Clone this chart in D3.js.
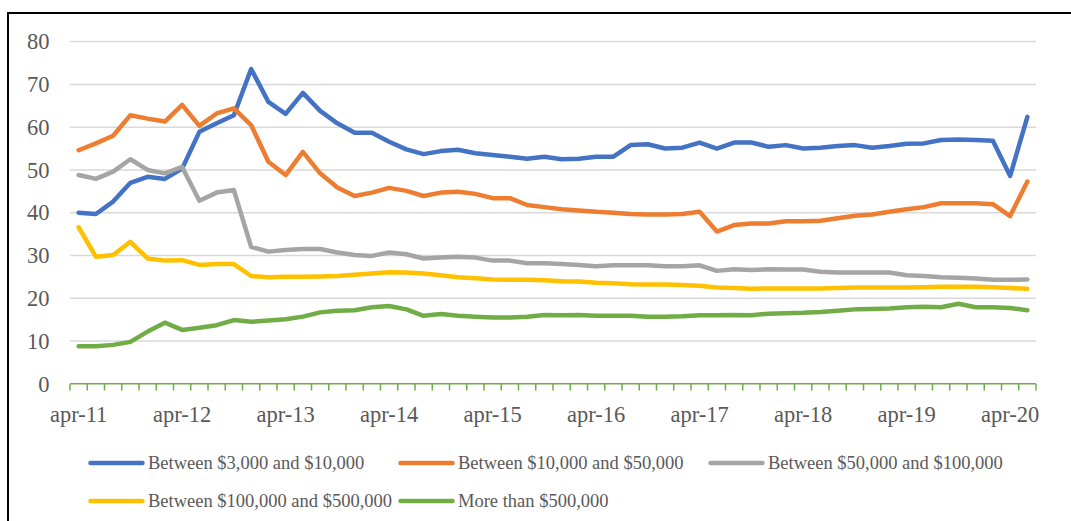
<!DOCTYPE html>
<html>
<head>
<meta charset="utf-8">
<script src="https://cdn.jsdelivr.net/npm/d3@7"></script>
<style>
  html, body { margin: 0; padding: 0; background: #fff; }
  svg { display: block; }
</style>
</head>
<body>
<svg id="chart" width="1071" height="521"></svg>
<script>
const categories = [
  "apr-11","jun-11","aug-11","oct-11","dec-11","feb-12",
  "apr-12","jun-12","aug-12","oct-12","dec-12","feb-13",
  "apr-13","jun-13","aug-13","oct-13","dec-13","feb-14",
  "apr-14","jun-14","aug-14","oct-14","dec-14","feb-15",
  "apr-15","jun-15","aug-15","oct-15","dec-15","feb-16",
  "apr-16","jun-16","aug-16","oct-16","dec-16","feb-17",
  "apr-17","jun-17","aug-17","oct-17","dec-17","feb-18",
  "apr-18","jun-18","aug-18","oct-18","dec-18","feb-19",
  "apr-19","jun-19","aug-19","oct-19","dec-19","feb-20",
  "apr-20","jun-20"
];
const tickLabels = ["apr-11","apr-12","apr-13","apr-14","apr-15","apr-16","apr-17","apr-18","apr-19","apr-20"];
const yTicks = [0,10,20,30,40,50,60,70,80];

const seriesNames = [
  "Between $3,000 and $10,000",
  "Between $10,000 and $50,000",
  "Between $50,000 and $100,000",
  "Between $100,000 and $500,000",
  "More than $500,000"
];
const seriesColors = ["#4472c4","#ed7d31","#a5a5a5","#ffc000","#70ad47"];

const s3kTo10k = [
  40.0,39.7,42.6,47.0,48.4,47.9,50.3,58.9,60.9,62.8,73.6,65.9,63.1,68.0,
  63.8,60.9,58.7,58.7,56.6,54.8,53.7,54.4,54.7,53.9,53.5,53.1,52.6,53.1,
  52.5,52.6,53.1,53.1,55.8,56.0,55.0,55.2,56.4,55.0,56.4,56.4,55.4,55.8,
  55.0,55.2,55.6,55.8,55.2,55.6,56.1,56.2,57.0,57.1,57.0,56.8,48.6,62.4
];
const s10kTo50k = [
  54.6,56.2,58.0,62.8,62.0,61.3,65.2,60.3,63.2,64.4,60.5,51.9,48.8,54.2,
  49.2,45.9,43.9,44.7,45.8,45.1,43.9,44.7,44.9,44.4,43.4,43.4,41.8,41.3,
  40.8,40.5,40.2,40.0,39.7,39.6,39.6,39.7,40.2,35.6,37.1,37.5,37.5,38.0,
  38.0,38.1,38.7,39.3,39.6,40.2,40.8,41.3,42.2,42.2,42.2,42.0,39.2,47.3
];
const s50kTo100k = [
  48.8,47.9,49.6,52.5,50.0,49.2,50.7,42.8,44.7,45.3,32.0,30.9,31.3,31.5,
  31.5,30.7,30.1,29.9,30.7,30.3,29.3,29.5,29.7,29.5,28.8,28.8,28.2,28.2,
  28.0,27.8,27.5,27.7,27.7,27.7,27.5,27.5,27.7,26.4,26.8,26.6,26.8,26.7,
  26.7,26.2,26.0,26.0,26.0,26.0,25.4,25.2,24.9,24.8,24.6,24.3,24.3,24.4
];
const s100kTo500k = [
  36.6,29.7,30.1,33.2,29.3,28.8,28.9,27.8,28.0,28.0,25.2,24.9,25.0,25.0,
  25.1,25.2,25.5,25.8,26.1,26.0,25.8,25.4,24.9,24.7,24.4,24.3,24.3,24.2,
  24.0,23.9,23.6,23.5,23.3,23.2,23.2,23.1,22.9,22.5,22.4,22.2,22.3,22.3,
  22.3,22.3,22.4,22.5,22.5,22.5,22.5,22.6,22.7,22.7,22.7,22.6,22.4,22.2
];
const sOver500k = [
  8.8,8.8,9.1,9.8,12.2,14.3,12.6,13.1,13.7,14.9,14.5,14.8,15.1,15.7,
  16.7,17.1,17.2,17.9,18.2,17.4,15.9,16.3,15.9,15.7,15.5,15.5,15.7,16.1,
  16.0,16.1,15.9,15.9,15.9,15.7,15.7,15.8,16.0,16.0,16.1,16.0,16.4,16.5,
  16.6,16.8,17.1,17.4,17.5,17.6,17.9,18.0,17.9,18.7,17.9,17.9,17.7,17.2
];
const seriesValues = [s3kTo10k, s10kTo50k, s50kTo100k, s100kTo500k, sOver500k];

const svg = d3.select("#chart");
const textColor = "#595959";
const serif = "'Liberation Serif','Times New Roman',Times,serif";

// outer frame
svg.append("rect")
  .attr("x", 8).attr("y", 13)
  .attr("width", 1080).attr("height", 530)
  .attr("fill", "none").attr("stroke", "#000").attr("stroke-width", 2);

const x = d3.scaleBand().domain(categories).range([70, 1036]).paddingInner(0).paddingOuter(0);
const y = d3.scaleLinear().domain([0, 80]).range([383.8, 41.6]);
const cx = c => x(c) + x.bandwidth() / 2;

// gridlines
svg.append("g").selectAll("line")
  .data(yTicks.filter(t => t > 0))
  .join("line")
  .attr("x1", 70).attr("x2", 1036)
  .attr("y1", d => y(d)).attr("y2", d => y(d))
  .attr("stroke", "#d9d9d9").attr("stroke-width", 1.5);

// y axis labels
const yAxis = d3.axisLeft(y).tickValues(yTicks).tickSize(0).tickPadding(0).tickFormat(d3.format("d"));
const yg = svg.append("g").attr("transform", "translate(49.5,0)").call(yAxis);
yg.select(".domain").remove();
yg.selectAll("text")
  .attr("fill", textColor)
  .style("font-family", serif)
  .style("font-size", "22.5px");

// x axis
const xAxis = d3.axisBottom(x).tickValues(tickLabels).tickSize(0).tickPadding(0);
const xg = svg.append("g").attr("transform", "translate(0,383.8)").call(xAxis);
xg.select(".domain").remove();
xg.selectAll("text")
  .attr("fill", textColor)
  .attr("y", 38).attr("dy", 0)
  .style("font-family", serif)
  .style("font-size", "22.5px");

// series lines
const line = d3.line()
  .x((d, i) => cx(categories[i]))
  .y(d => y(d));

svg.append("g").selectAll("path")
  .data(seriesValues)
  .join("path")
  .attr("d", d => line(d))
  .attr("fill", "none")
  .attr("stroke", (d, i) => seriesColors[i])
  .attr("stroke-width", 4.5)
  .attr("stroke-linejoin", "round")
  .attr("stroke-linecap", "round");

// x axis line and tick marks (drawn green as in reference)
const boundaries = categories.map(c => x(c)).concat([x(categories[categories.length - 1]) + x.bandwidth()]);
const axisG = svg.append("g");
axisG.append("line")
  .attr("x1", 70).attr("x2", 1036)
  .attr("y1", 383.8).attr("y2", 383.8)
  .attr("stroke", "#70ad47").attr("stroke-width", 1.5);
axisG.selectAll("line.tick")
  .data(boundaries)
  .join("line")
  .attr("class", "tick")
  .attr("x1", d => d).attr("x2", d => d)
  .attr("y1", 383.8).attr("y2", 390.5)
  .attr("stroke", "#70ad47").attr("stroke-width", 1.5);

// legend
const legendPos = [
  {x: 89, y: 463}, {x: 399, y: 463}, {x: 709, y: 463},
  {x: 89, y: 501}, {x: 399, y: 501}
];
const lg = svg.append("g").selectAll("g")
  .data(seriesNames)
  .join("g")
  .attr("transform", (d, i) => `translate(${legendPos[i].x},${legendPos[i].y})`);
lg.append("line")
  .attr("x1", 1.5).attr("x2", 53.5).attr("y1", 0).attr("y2", 0)
  .attr("stroke", (d, i) => seriesColors[i])
  .attr("stroke-width", 4.5)
  .attr("stroke-linecap", "round");
lg.append("text")
  .attr("x", 59).attr("y", 0).attr("dy", "0.35em")
  .attr("fill", textColor)
  .style("font-family", serif)
  .style("font-size", "18.5px")
  .text(d => d);
</script>
</body>
</html>
